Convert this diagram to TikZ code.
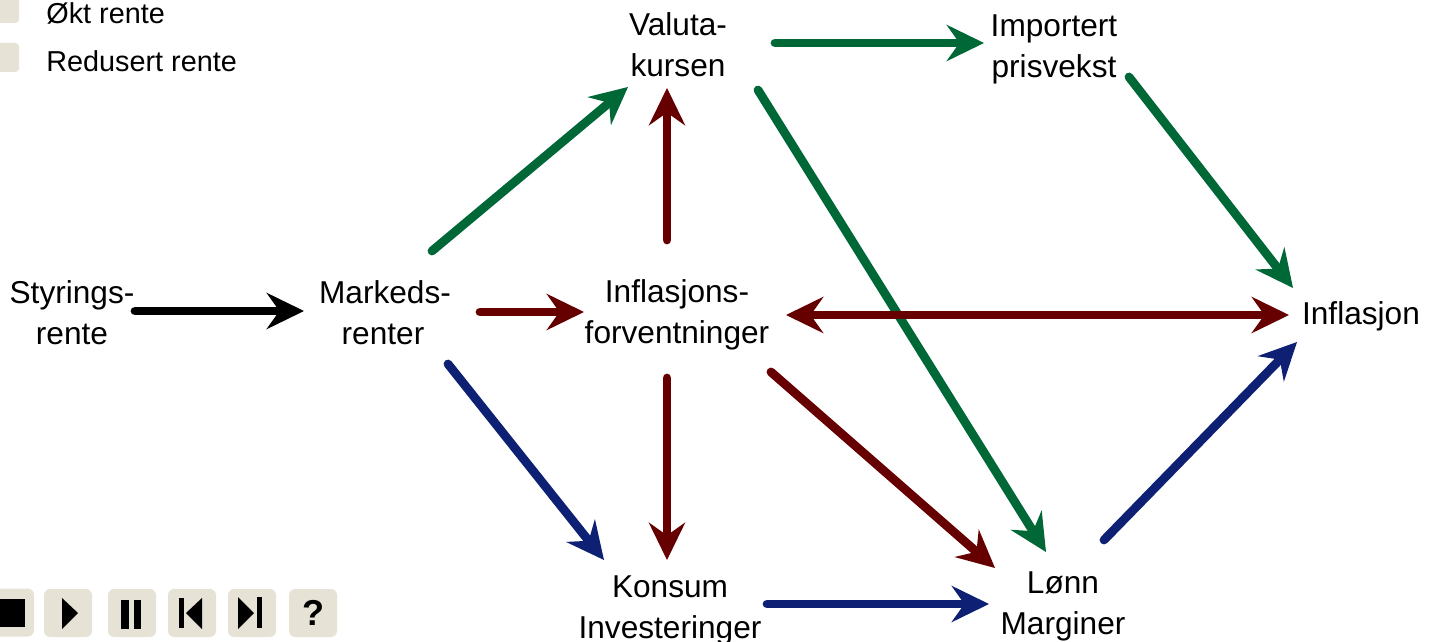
\documentclass[tikz,border=0pt]{standalone}
\usepackage{fontspec}
\setmainfont{Liberation Sans}
\usetikzlibrary{arrows.meta}
\definecolor{flowgreen}{RGB}{0,104,55}
\definecolor{flowred}{RGB}{102,0,0}
\definecolor{flowblue}{RGB}{13,32,115}
\definecolor{panel}{RGB}{230,226,214}
\begin{document}
\begin{tikzpicture}[
  x=0.02cm, y=-0.02cm,
  head/.tip={Stealth[length=21.5pt, width=21pt, inset=7.5pt, line width=0pt]},
  label/.style={align=center, inner sep=0pt, font=\fontsize{18}{23.3}\selectfont},
  legendtext/.style={anchor=base west, inner sep=0pt, font=\fontsize{16.4}{20}\selectfont},
  legendbox/.style={fill=panel, rounded corners=2pt, minimum size=29*0.02cm, inner sep=0pt},
  button/.style={fill=panel, rounded corners=3.5pt, minimum size=48*0.02cm, inner sep=0pt},
  arrow/.style={-head, line width=5pt, line cap=round}
]
\useasboundingbox (0,0) rectangle (1437,642);
% legend
\node[legendbox] (upbox) at (4.5,8.5) {};
\node[legendbox] (downbox) at (4.5,57.5) {};
\node[legendtext] (uptext) at (46,23.5) {Økt rente};
\node[legendtext] (downtext) at (46,71.5) {Redusert rente};
% nodes
\node[label] (styrings) at (72,313) {Styrings-\\rente};
\node[label] (markeds) at (385,312.5) {Markeds-\\renter\hspace*{2.3pt}};
\node[label] (forvent) at (677,315) {Inflasjons-\\forventninger};
\node[label] (valuta) at (678,45) {Valuta-\\kursen};
\node[label] (import) at (1054,49) {Importert\\prisvekst};
\node[label] (inflasjon) at (1361,316) {Inflasjon};
\node[label] (konsum) at (670,610) {Konsum\\Investeringer};
\node[label] (lonn) at (1063,606) {Lønn\\Marginer};
% arrows
\draw[arrow, black] ([shift={(63,-2)}]styrings.center) -- ([shift={(-81,-1.5)}]markeds.center);
\draw[arrow, flowred] ([shift={(95,-0.5)}]markeds.center) -- ([shift={(-93,-3)}]forvent.center);
\draw[arrow, flowred] ([shift={(-10,-75)}]forvent.center) -- ([shift={(-11,43)}]valuta.center);
\draw[arrow, flowgreen] ([shift={(47,-61.5)}]markeds.center) -- ([shift={(-50,42)}]valuta.center);
\draw[arrow, flowgreen] ([shift={(97,-2)}]valuta.center) -- ([shift={(-70,-6)}]import.center);
\draw[arrow, flowgreen] ([shift={(80,45)}]valuta.center) -- ([shift={(-17,-54)}]lonn.center);
\draw[arrow, flowgreen] ([shift={(75,28)}]import.center) -- ([shift={(-68,-28)}]inflasjon.center);
\draw[{head}-{head}, line width=5pt, flowred] ([shift={(109,0)}]forvent.center) -- ([shift={(-72,-1)}]inflasjon.center);
\draw[arrow, flowblue] ([shift={(63,51.5)}]markeds.center) -- ([shift={(-66,-50)}]konsum.center);
\draw[arrow, flowred] ([shift={(-10,63)}]forvent.center) -- ([shift={(-3,-50)}]konsum.center);
\draw[arrow, flowred] ([shift={(94,57)}]forvent.center) -- ([shift={(-68,-38)}]lonn.center);
\draw[arrow, flowblue] ([shift={(97,-6)}]konsum.center) -- ([shift={(-74,-2)}]lonn.center);
\draw[arrow, flowblue] ([shift={(41,-66)}]lonn.center) -- ([shift={(-64,26)}]inflasjon.center);
% buttons
\node[button] (stop) at (10,612.5) {};
\node[button] (play) at (68,613) {};
\node[button] (pause) at (132,613) {};
\node[button] (prev) at (192,613) {};
\node[button] (next) at (252,613) {};
\node[button, font=\fontsize{20.5}{24}\bfseries\selectfont] (help) at (313,613) {?};
\fill (-5,599) rectangle (25,627);
\fill (62,598) -- (62,629) -- (78,613) -- cycle;
\fill (121,600) rectangle (129,629);
\fill (134,600) rectangle (141,629);
\fill (179,598) rectangle (184,628);
\fill (202,598) -- (202,629) -- (186,613) -- cycle;
\fill (238,597) -- (238,629) -- (254,613) -- cycle;
\fill (257,597) rectangle (262,628);
\end{tikzpicture}
\end{document}
